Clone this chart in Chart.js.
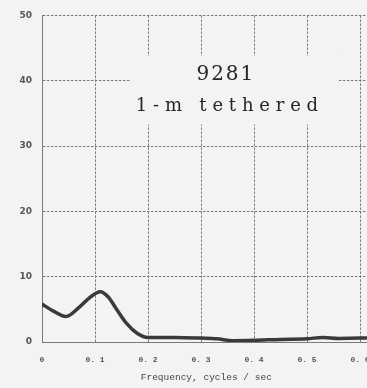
<!DOCTYPE html>
<html>
<head>
<meta charset="utf-8">
<script src="https://cdn.jsdelivr.net/npm/chart.js@4/dist/chart.umd.min.js"></script>
<style>
  html, body { margin: 0; padding: 0; background: #f3f3f3; overflow: hidden; }
  #wrap { position: absolute; left: 0; top: 0; width: 400px; height: 388px; }
</style>
</head>
<body>
<div id="wrap"><canvas id="specChart" width="400" height="388"></canvas></div>
<script>
// spectrum
const freq = [0, 0.02, 0.045, 0.07, 0.09, 0.11, 0.125, 0.14, 0.16, 0.18, 0.2, 0.25, 0.3, 0.33, 0.36, 0.4, 0.45, 0.5, 0.53, 0.56, 0.6, 0.62];
const energy = [5.8, 4.8, 3.9, 5.3, 6.8, 7.7, 6.9, 5.1, 2.8, 1.3, 0.7, 0.7, 0.6, 0.5, 0.2, 0.25, 0.4, 0.5, 0.7, 0.55, 0.6, 0.6];
const titleLines = ['9281', '1-m tethered'];
const xTitle = 'Frequency, cycles / sec';

const gridColor = '#7a7a7a';
const tickColor = '#555';

// box behind the label text, then the spaced label text
const labelPlugin = {
    id: 'labelBox',
    beforeDatasetsDraw(chart) {
        const { ctx, scales: { x, y } } = chart;
        const x0 = x.getPixelForValue(0.166), x1 = x.getPixelForValue(0.558);
        const y0 = y.getPixelForValue(43.8), y1 = y.getPixelForValue(33.3);
        ctx.save();
        ctx.fillStyle = '#f3f3f3';
        ctx.fillRect(x0, y0, x1 - x0, y1 - y0);
        ctx.fillStyle = '#262626';
        ctx.textBaseline = 'alphabetic';
        ctx.textAlign = 'left';
        const spaced = (text, cx, by, spacing) => {
            let total = 0;
            for (const ch of text) total += ctx.measureText(ch).width;
            total += spacing * (text.length - 1);
            let px = cx - total / 2;
            for (const ch of text) {
                ctx.fillText(ch, px, by);
                px += ctx.measureText(ch).width + spacing;
            }
        };
        ctx.font = '20px "DejaVu Serif"';
        spaced(titleLines[0], x.getPixelForValue(0.345), y.getPixelForValue(40.1), 2);
        ctx.font = '18px "DejaVu Serif"';
        spaced(titleLines[1], x.getPixelForValue(0.349), y.getPixelForValue(35.4), 5.8);
        ctx.restore();
    }
};

const ctx = document.getElementById('specChart').getContext('2d');
new Chart(ctx, {
    type: 'scatter',
    data: {
        datasets: [{
            data: freq.map((f, i) => ({ x: f, y: energy[i] })),
            showLine: true,
            borderColor: '#3a3a3a',
            borderWidth: 3.5,
            pointRadius: 0,
            cubicInterpolationMode: 'monotone'
        }]
    },
    options: {
        responsive: false,
        animation: false,
        devicePixelRatio: 1,
        layout: { padding: { top: 11, right: 29.4, bottom: 0, left: 0 } },
        plugins: {
            legend: { display: false },
            tooltip: { enabled: false }
        },
        scales: {
            x: {
                type: 'linear',
                min: 0,
                max: 0.62,
                afterFit: s => { s.height = 46; },
                ticks: {
                    stepSize: 0.1,
                    includeBounds: false,
                    padding: 13,
                    maxRotation: 0,
                    color: tickColor,
                    font: { family: '"Liberation Mono"', size: 8, weight: 'bold' },
                    callback: v => v === 0 ? '0' : v.toFixed(1).replace('.', '. ')
                },
                grid: { color: gridColor, drawTicks: false, lineWidth: 1 },
                border: { color: gridColor, dash: [2.5, 1.5] },
                title: {
                    display: true,
                    text: xTitle,
                    color: '#444',
                    font: { family: '"Liberation Mono"', size: 9.5 },
                    padding: { top: 0, bottom: 5 }
                }
            },
            y: {
                min: 0,
                max: 50,
                afterFit: s => { s.width = 42; },
                ticks: {
                    stepSize: 10,
                    padding: 10,
                    color: tickColor,
                    font: { family: '"DejaVu Sans"', size: 9, weight: 'bold' }
                },
                grid: { color: gridColor, drawTicks: false, lineWidth: 1 },
                border: { color: gridColor, dash: [2.5, 1.5] }
            }
        }
    },
    plugins: [labelPlugin]
});
</script>
</body>
</html>
